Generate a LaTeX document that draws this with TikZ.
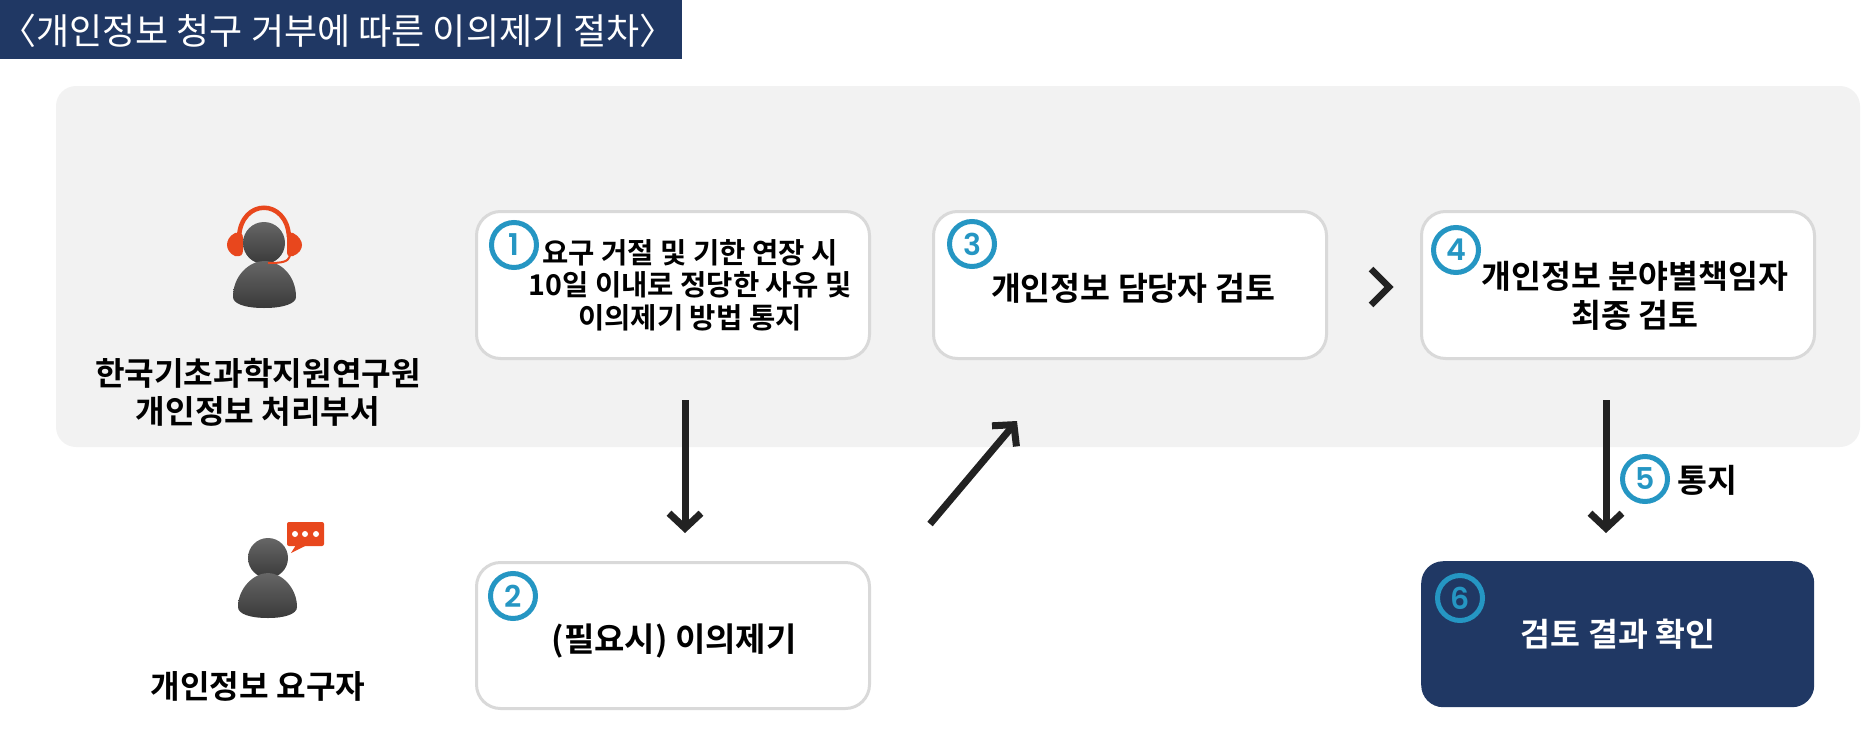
\documentclass[tikz,border=0pt]{standalone}
\usepackage{fontspec}
\setmainfont{Noto Sans CJK KR}
\newfontfamily\kr{Noto Sans CJK KR}[BoldFont={Noto Sans CJK KR Bold}]
\newfontfamily\num{Poppins}[BoldFont={Poppins SemiBold}]
\usetikzlibrary{arrows.meta,shadings}
\definecolor{navy}{HTML}{203864}
\definecolor{panel}{HTML}{F2F2F2}
\definecolor{edge}{HTML}{D9D9D9}
\definecolor{ring}{HTML}{2596C3}
\definecolor{ink}{HTML}{222222}
\definecolor{hot}{HTML}{E8471D}
\definecolor{topg}{HTML}{666666}
\definecolor{botg}{HTML}{3A3A3A}
\tikzset{
  lbl/.style={font=\kr\bfseries\fontsize{#1}{#1}\selectfont,align=center,text=black,inner sep=0pt},
  stepbox/.style={rectangle,rounded corners=24pt,draw=edge,line width=3pt,fill=white,anchor=north west,inner sep=0pt},
  badge/.style={circle,draw=ring,line width=5pt,minimum size=45pt,inner sep=0pt,text=ring,font=\num\bfseries\fontsize{30}{30}\selectfont},
  flow/.style={draw=ink,line width=7pt,-{Straight Barb[length=15pt,width=32pt,line width=7pt]}},
  grey/.style={top color=topg,bottom color=botg,draw=none},
}
\begin{document}
\begin{tikzpicture}[x=1pt,y=-1pt]
\useasboundingbox (0,0) rectangle (1867,728);
% title
\fill[navy] (0,0) rectangle (682,59);
\node[font=\kr\fontsize{36}{36}\selectfont,text=white,inner sep=0pt] (title) at (338,31) {〈개인정보 청구 거부에 따른 이의제기 절차〉};
% panel
\fill[panel,rounded corners=20pt] (56,86) rectangle (1860,447);
% boxes
\node[stepbox,minimum width=393pt,minimum height=147pt] (b1) at (475,210) {};
\node[stepbox,minimum width=393pt,minimum height=147pt] (b3) at (932,210) {};
\node[stepbox,minimum width=393pt,minimum height=147pt] (b4) at (1420,210) {};
\node[stepbox,minimum width=393pt,minimum height=146pt] (b2) at (475,561) {};
\node[rectangle,rounded corners=22pt,fill=navy,anchor=north west,minimum width=393pt,minimum height=146pt,inner sep=0pt] (b6) at (1421,561) {};
% box texts
\node[lbl=28.6] (t1) at (690,285) {요구 거절 및 기한 연장 시\\[4pt]10일 이내로 정당한 사유 및\\[4pt]이의제기 방법 통지};
\node[lbl=32.5] (t3) at (1133,288) {개인정보 담당자 검토};
\node[lbl=32.5] (t4) at (1635,296) {개인정보 분야별책임자\\[7pt]최종 검토};
\node[lbl=33] (t2) at (674,641) {(필요시) 이의제기};
\node[lbl=32.5,text=white] (t6) at (1618,634) {검토 결과 확인};
\node[lbl=32.2] (org) at (258,392) {한국기초과학지원연구원\\[6pt]개인정보 처리부서};
\node[lbl=32.2] (req) at (258,686) {개인정보 요구자};
\node[lbl=32.5] (t5) at (1707,480) {통지};
% badges
\node[badge] (n1) at (514,245) {1};
\node[badge] (n2) at (513,596) {2};
\node[badge] (n3) at (972,244) {3};
\node[badge] (n4) at (1456,250) {4};
\node[badge] (n5) at (1645,479) {5};
\node[badge] (n6) at (1460,598) {6};
% arrows
\coordinate (a1s) at (685,400); \coordinate (a1e) at (685,533);
\coordinate (a2s) at (930,524); \coordinate (a2e) at (1017,421);
\coordinate (a5s) at (1606,400); \coordinate (a5e) at (1606,533);
\draw[flow] (a1s) -- (a1e);
\draw[flow] (a2s) -- (a2e);
\draw[flow] (a5s) -- (a5e);
\draw[ink,line width=6.5pt,miter limit=10] (1371,269) -- (1389,287) -- (1371,305);
% headset icon
\draw[hot,line width=4.5pt] (239,237) .. controls (241,198) and (287,198) .. (289,237);
\fill[hot] (235,233) .. controls (229,236) and (227,241) .. (227,245) .. controls (227,249) and (230,254) .. (235,256) .. controls (241,257) and (243,255) .. (243,250) -- (243,238) .. controls (243,233) and (240,232) .. (235,233) -- cycle;
\fill[hot] (293,233) .. controls (299,236) and (302,241) .. (302,245) .. controls (302,249) and (299,254) .. (293,256) .. controls (287,257) and (287,255) .. (287,250) -- (287,238) .. controls (287,233) and (289,232) .. (293,233) -- cycle;
\shade[grey] (264,243) ellipse[x radius=21pt,y radius=21pt];
\shade[grey] (233,297) .. controls (233,275) and (250,261) .. (264,261) .. controls (280,261) and (296,275) .. (296,297) .. controls (296,303) and (285,308) .. (264,308) .. controls (243,308) and (233,303) .. (233,297) -- cycle;
\draw[hot,line width=2pt] (290,256) .. controls (288,262) and (282,263) .. (268,263);
% requester icon
\shade[grey] (268,558) circle[radius=20pt];
\shade[grey] (238,607) .. controls (238,588) and (254,573) .. (268,573) .. controls (282,573) and (297,588) .. (297,607) .. controls (297,614) and (285,618) .. (268,618) .. controls (250,618) and (238,614) .. (238,607) -- cycle;
\fill[hot,rounded corners=2pt] (287,522) rectangle (324,546);
\fill[hot] (296,545) -- (291,553) -- (307,545) -- cycle;
\fill[white] (295,534) circle[radius=3pt] (305,534) circle[radius=3pt] (316,534) circle[radius=3pt];
\end{tikzpicture}
\end{document}
